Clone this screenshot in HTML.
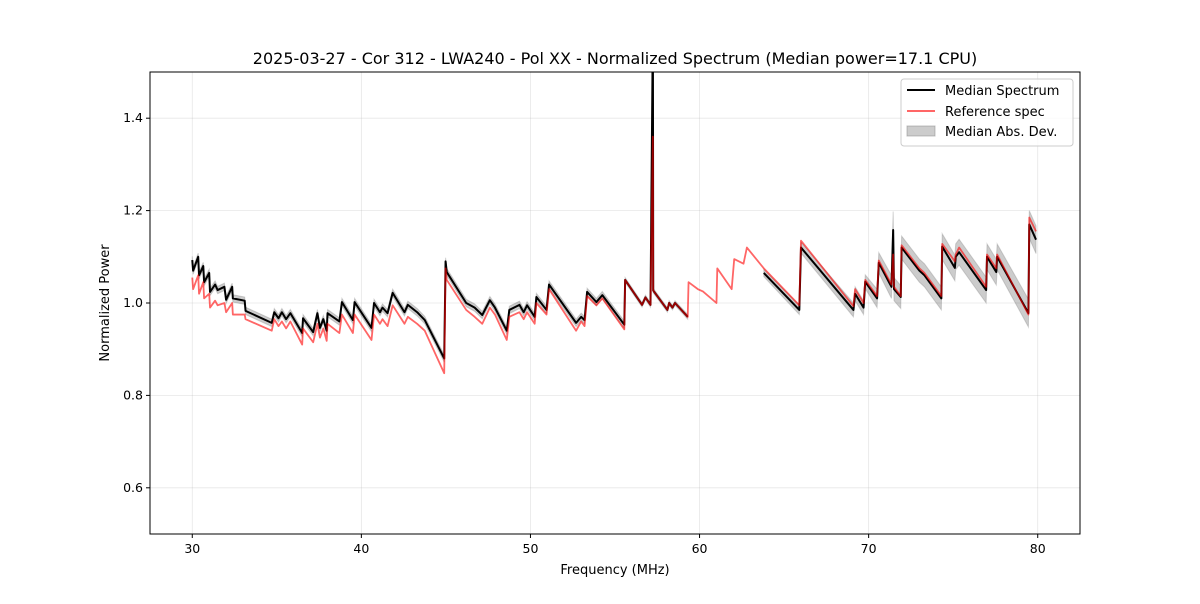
<!DOCTYPE html>
<html><head><meta charset="utf-8"><style>
body{margin:0;background:#fff;font-family:"DejaVu Sans",sans-serif}
svg text{font-family:"DejaVu Sans",sans-serif}
</style></head><body>
<svg id="chart" width="1200" height="600" xmlns="http://www.w3.org/2000/svg">
<rect width="1200" height="600" fill="#fff"/>
<text x="615" y="64" text-anchor="middle" font-size="16">2025-03-27 - Cor 312 - LWA240 - Pol XX - Normalized Spectrum (Median power=17.1 CPU)</text>
<defs><clipPath id="clip"><rect x="150" y="72" width="930" height="462"/></clipPath></defs>
<g id="grid"></g>
<g id="plot" clip-path="url(#clip)"></g>
<rect x="150" y="72" width="930" height="462" fill="none" stroke="#000" stroke-width="1"/>
<g id="ticks"></g>
<text x="615" y="574" text-anchor="middle" font-size="13">Frequency (MHz)</text>
<text transform="translate(109,303) rotate(-90)" text-anchor="middle" font-size="13">Normalized Power</text>
<g>
<rect x="901" y="79" width="172" height="67" rx="3" fill="#fff" fill-opacity="0.8" stroke="#ccc"/>
<line x1="907" y1="90" x2="935" y2="90" stroke="#000" stroke-width="2"/>
<text x="945" y="95" font-size="13">Median Spectrum</text>
<line x1="907" y1="111" x2="935" y2="111" stroke="#f00" stroke-opacity="0.6" stroke-width="2"/>
<text x="945" y="116" font-size="13">Reference spec</text>
<rect x="907" y="126" width="28" height="10" fill="#000" fill-opacity="0.2" stroke="#888" stroke-opacity="0.5"/>
<text x="945" y="136" font-size="13">Median Abs. Dev.</text>
</g>
</svg>
<script>
const freqs=[30.0,30.05,30.35,30.4,30.65,30.7,31.0,31.05,31.35,31.5,31.9,32.0,32.36,32.4,33.1,33.15,34.7,34.85,35.1,35.3,35.55,35.8,36.5,36.55,37.15,37.4,37.55,37.75,37.95,38.0,38.7,38.85,39.5,39.6,40.6,40.75,41.1,41.25,41.55,41.85,42.55,42.75,43.3,43.75,44.9,44.98,45.05,46.2,46.7,47.15,47.6,47.9,48.6,48.75,49.35,49.6,49.8,50.25,50.35,50.95,51.1,52.7,53.0,53.2,53.35,53.9,54.25,55.55,55.6,56.6,56.8,57.1,57.24,57.26,58.1,58.2,58.4,58.55,59.3,59.35,59.9,60.2,61.0,61.05,61.9,62.05,62.6,62.8,63.8,65.9,66.0,69.1,69.2,69.7,69.8,70.5,70.6,71.35,71.45,71.5,71.9,71.95,73.0,73.3,74.3,74.35,75.1,75.15,75.35,76.95,77.0,77.55,77.6,79.45,79.5,79.9];
const medianVals=[1.093,1.07,1.10,1.06,1.08,1.045,1.065,1.024,1.04,1.028,1.035,1.007,1.035,1.01,1.005,0.983,0.957,0.98,0.967,0.98,0.965,0.978,0.935,0.967,0.937,0.978,0.946,0.965,0.94,0.978,0.96,1.002,0.963,1.002,0.946,1.0,0.98,0.99,0.978,1.022,0.98,0.996,0.98,0.963,0.88,1.09,1.067,1.0,0.99,0.974,1.006,0.99,0.94,0.985,0.996,0.98,0.995,0.97,1.013,0.985,1.04,0.957,0.97,0.963,1.024,1.002,1.017,0.953,1.05,0.996,1.012,0.996,1.6,1.027,0.985,1.0,0.99,1.0,0.97,null,null,null,null,null,null,null,null,null,1.065,0.985,1.12,0.985,1.02,0.99,1.046,1.01,1.087,1.035,1.158,1.03,1.013,1.12,1.07,1.06,1.01,1.122,1.076,1.1,1.11,1.028,1.1,1.067,1.1,0.978,1.17,1.137];
const refVals=[1.055,1.03,1.06,1.02,1.045,1.01,1.02,0.99,1.005,0.995,1.0,0.98,1.0,0.975,0.975,0.965,0.94,0.965,0.95,0.96,0.945,0.96,0.91,0.945,0.915,0.955,0.925,0.945,0.918,0.955,0.935,0.975,0.935,0.975,0.92,0.975,0.955,0.965,0.95,0.995,0.955,0.97,0.955,0.94,0.848,1.075,1.05,0.985,0.97,0.955,0.99,0.975,0.92,0.97,0.98,0.965,0.98,0.955,1.0,0.975,1.03,0.94,0.96,0.95,1.015,0.995,1.01,0.943,1.05,0.996,1.012,0.996,1.36,1.027,0.985,1.0,0.99,1.0,0.97,1.045,1.03,1.025,1.0,1.075,1.03,1.095,1.085,1.12,1.075,0.995,1.135,0.993,1.03,1.0,1.05,1.015,1.092,1.04,1.105,1.035,1.015,1.125,1.075,1.065,1.015,1.128,1.09,1.105,1.12,1.035,1.105,1.075,1.105,0.975,1.185,1.155];
const madVals=[0.008,0.008,0.008,0.008,0.008,0.008,0.008,0.008,0.008,0.008,0.008,0.008,0.008,0.008,0.008,0.008,0.008,0.008,0.008,0.008,0.008,0.008,0.008,0.008,0.008,0.008,0.008,0.008,0.008,0.008,0.008,0.008,0.008,0.008,0.008,0.008,0.008,0.008,0.008,0.008,0.008,0.008,0.008,0.008,0.008,0.008,0.008,0.008,0.008,0.008,0.008,0.008,0.008,0.008,0.008,0.008,0.008,0.008,0.008,0.008,0.008,0.008,0.008,0.008,0.008,0.008,0.008,0.008,0.005,0.005,0.005,0.005,0.005,0.005,0.005,0.005,0.005,0.005,0.005,null,null,null,null,null,null,null,null,null,0.008,0.01,0.012,0.015,0.015,0.015,0.015,0.02,0.022,0.025,0.04,0.025,0.025,0.025,0.025,0.025,0.025,0.028,0.028,0.028,0.028,0.028,0.028,0.028,0.028,0.03,0.03,0.03];
const xTicks=[30,40,50,60,70,80];
const yTicks=[0.6,0.8,1.0,1.2,1.4];
const NS='http://www.w3.org/2000/svg';
const X0=150,X1=1080,Y0=534,Y1=72,FMIN=27.5,FMAX=82.5,VMIN=0.5,VMAX=1.5;
function xs(f){return X0+(f-FMIN)/(FMAX-FMIN)*(X1-X0);}
function ys(v){return Y0-(v-VMIN)/(VMAX-VMIN)*(Y0-Y1);}
function mk(tag,attrs,parent){const e=document.createElementNS(NS,tag);for(const k in attrs)e.setAttribute(k,attrs[k]);parent.appendChild(e);return e;}
const grid=document.getElementById('grid'),ticks=document.getElementById('ticks'),plot=document.getElementById('plot');
xTicks.forEach(t=>{const x=xs(t);
 const g=mk('line',{x1:x,x2:x,y1:Y1,y2:Y0,stroke:'#b0b0b0','stroke-opacity':0.3,'stroke-width':0.8},grid);
 
 
 mk('line',{x1:x,x2:x,y1:Y0,y2:Y0+4,stroke:'#000'},ticks);
 const t1=mk('text',{x:x,y:Y0+19,'text-anchor':'middle','font-size':12.5},ticks);t1.textContent=t;
 
 
});
yTicks.forEach(t=>{const y=ys(t);
 const g=mk('line',{x1:X0,x2:X1,y1:y,y2:y,stroke:'#b0b0b0','stroke-opacity':0.3,'stroke-width':0.8},grid);
 
 
 mk('line',{x1:X0-4,x2:X0,y1:y,y2:y,stroke:'#000'},ticks);
 const t1=mk('text',{x:X0-7,y:y+4,'text-anchor':'end','font-size':12.5},ticks);t1.textContent=t.toFixed(1);
 
 
});
function segments(){const segs=[];let cur=[];freqs.forEach((f,i)=>{if(medianVals[i]==null){if(cur.length)segs.push(cur);cur=[];}else cur.push(i);});if(cur.length)segs.push(cur);return segs;}
const segs=segments();
segs.forEach(s=>{
 let d='M'+s.map(i=>xs(freqs[i])+','+ys(medianVals[i]+madVals[i])).join('L');
 d+='L'+s.slice().reverse().map(i=>xs(freqs[i])+','+ys(medianVals[i]-madVals[i])).join('L')+'Z';
 const p=mk('path',{d:d,fill:'#000','fill-opacity':0.2,stroke:'#777','stroke-opacity':0.3,'stroke-width':1},plot);
 
 
});
segs.forEach(s=>{
 const p=mk('path',{d:'M'+s.map(i=>xs(freqs[i])+','+ys(medianVals[i])).join('L'),fill:'none',stroke:'#000','stroke-width':2,'stroke-linejoin':'round'},plot);
 
 
});
const rp=mk('path',{d:'M'+freqs.map((f,i)=>xs(f)+','+ys(refVals[i])).join('L'),fill:'none',stroke:'#f00','stroke-opacity':0.6,'stroke-width':1.8,'stroke-linejoin':'round'},plot);


</script>
</body></html>
